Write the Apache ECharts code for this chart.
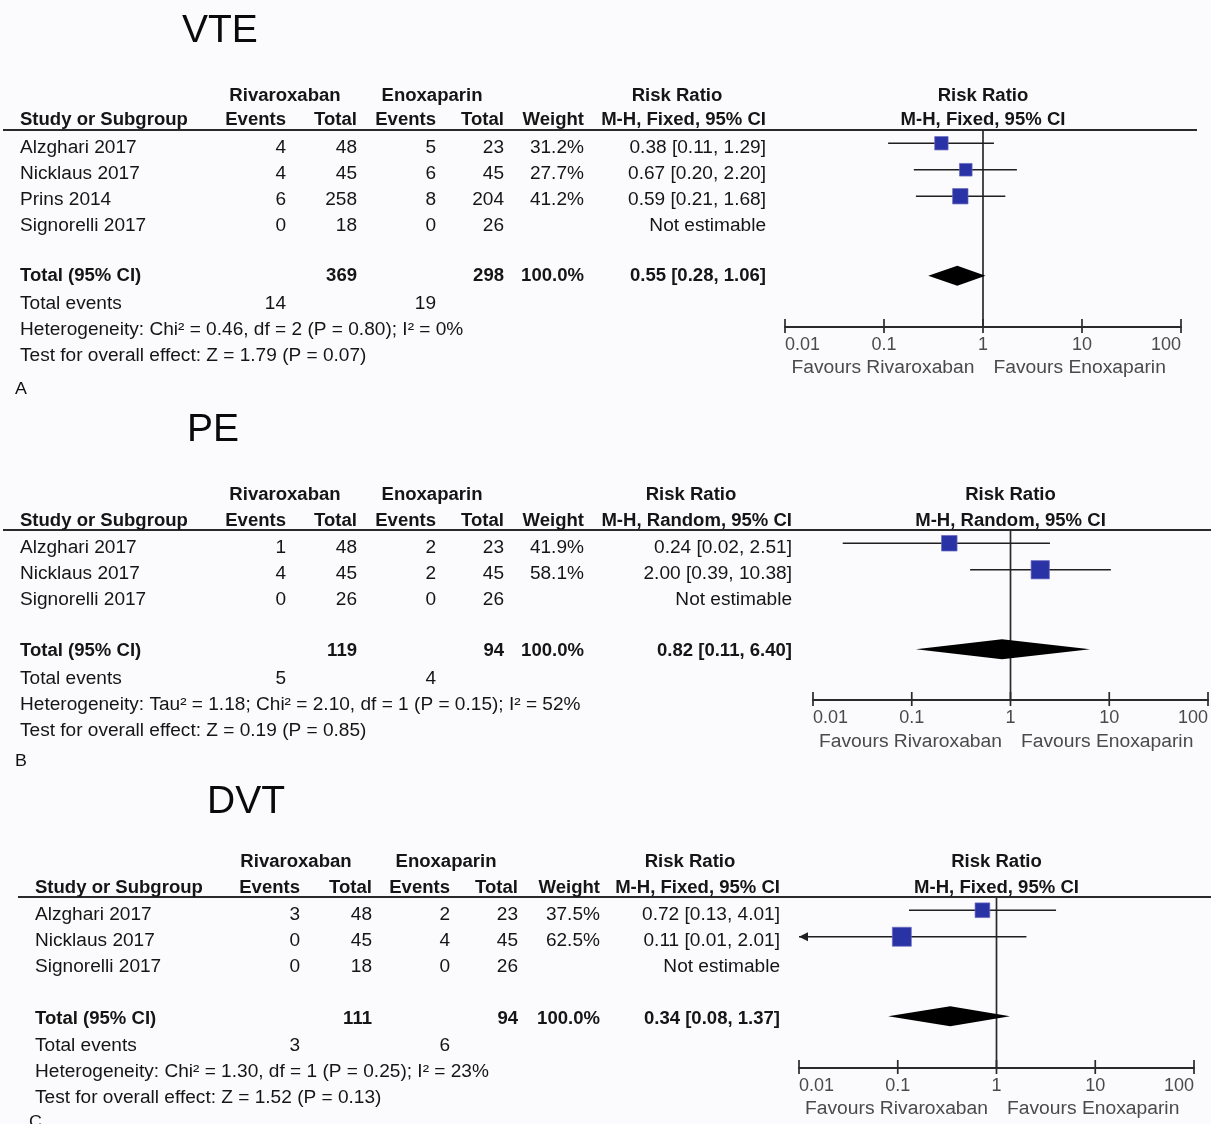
<!DOCTYPE html>
<html><head><meta charset="utf-8">
<script src="https://cdn.jsdelivr.net/npm/echarts@6.0.0/dist/echarts.min.js"></script>
<style>html,body{margin:0;padding:0;background:#fbfbfd}#c{width:1211px;height:1124px}</style>
</head><body><div id="c"></div>
<script>
// ---------------- DATA ----------------
const tickValues = [0.01, 0.1, 1, 10, 100];
const tickLabels = ['0.01', '0.1', '1', '10', '100'];
const favoursLeft = 'Favours Rivaroxaban';
const favoursRight = 'Favours Enoxaparin';
const panelTitles = ['VTE', 'PE', 'DVT'];
const panelLetters = ['A', 'B', 'C'];
const methods = ['M-H, Fixed, 95% CI', 'M-H, Random, 95% CI', 'M-H, Fixed, 95% CI'];

// VTE
const vteStudies = ['Alzghari 2017', 'Nicklaus 2017', 'Prins 2014', 'Signorelli 2017'];
const vteRivEvents = [4, 4, 6, 0];
const vteRivTotal = [48, 45, 258, 18];
const vteEnoEvents = [5, 6, 8, 0];
const vteEnoTotal = [23, 45, 204, 26];
const vteWeight = [31.2, 27.7, 41.2, null];
const vteRR = [0.38, 0.67, 0.59, null];
const vteLow = [0.11, 0.20, 0.21, null];
const vteHigh = [1.29, 2.20, 1.68, null];
const vteTotals = [369, 298];
const vteTotalEvents = [14, 19];
const vteOverall = [0.55, 0.28, 1.06];
const vteHet = 'Heterogeneity: Chi\u00b2 = 0.46, df = 2 (P = 0.80); I\u00b2 = 0%';
const vteTest = 'Test for overall effect: Z = 1.79 (P = 0.07)';

// PE
const peStudies = ['Alzghari 2017', 'Nicklaus 2017', 'Signorelli 2017'];
const peRivEvents = [1, 4, 0];
const peRivTotal = [48, 45, 26];
const peEnoEvents = [2, 2, 0];
const peEnoTotal = [23, 45, 26];
const peWeight = [41.9, 58.1, null];
const peRR = [0.24, 2.00, null];
const peLow = [0.02, 0.39, null];
const peHigh = [2.51, 10.38, null];
const peTotals = [119, 94];
const peTotalEvents = [5, 4];
const peOverall = [0.82, 0.11, 6.40];
const peHet = 'Heterogeneity: Tau\u00b2 = 1.18; Chi\u00b2 = 2.10, df = 1 (P = 0.15); I\u00b2 = 52%';
const peTest = 'Test for overall effect: Z = 0.19 (P = 0.85)';

// DVT
const dvtStudies = ['Alzghari 2017', 'Nicklaus 2017', 'Signorelli 2017'];
const dvtRivEvents = [3, 0, 0];
const dvtRivTotal = [48, 45, 18];
const dvtEnoEvents = [2, 4, 0];
const dvtEnoTotal = [23, 45, 26];
const dvtWeight = [37.5, 62.5, null];
const dvtRR = [0.72, 0.11, null];
const dvtLow = [0.13, 0.01, null];
const dvtHigh = [4.01, 2.01, null];
const dvtTotals = [111, 94];
const dvtTotalEvents = [3, 6];
const dvtOverall = [0.34, 0.08, 1.37];
const dvtHet = 'Heterogeneity: Chi\u00b2 = 1.30, df = 1 (P = 0.25); I\u00b2 = 23%';
const dvtTest = 'Test for overall effect: Z = 1.52 (P = 0.13)';

const panelData = [
  [vteStudies, vteRivEvents, vteRivTotal, vteEnoEvents, vteEnoTotal, vteWeight, vteRR, vteLow, vteHigh, vteTotals, vteTotalEvents, vteOverall, vteHet, vteTest],
  [peStudies, peRivEvents, peRivTotal, peEnoEvents, peEnoTotal, peWeight, peRR, peLow, peHigh, peTotals, peTotalEvents, peOverall, peHet, peTest],
  [dvtStudies, dvtRivEvents, dvtRivTotal, dvtEnoEvents, dvtEnoTotal, dvtWeight, dvtRR, dvtLow, dvtHigh, dvtTotals, dvtTotalEvents, dvtOverall, dvtHet, dvtTest]
];

// ---------------- LAYOUT ----------------
const layouts = [
  {titleX:182, titleY:31, letterX:15, letterY:389, h1Y:96, h2Y:120, lineY:130, lineX1:3, lineX2:1197, nameX:20,
   cols:[286,357,436,504,584,766], rivCenter:285, enoCenter:432, rrHeadCenter:677,
   rowY0:148, rowStep:26, totalY:276, eventsY:304, hetY:330, testY:356,
   gridLeft:785, gridWidth:396, gridTop:130, gridHeight:197, favY:368},
  {titleX:187, titleY:430, letterX:15, letterY:761, h1Y:495, h2Y:521, lineY:530, lineX1:3, lineX2:1211, nameX:20,
   cols:[286,357,436,504,584,792], rivCenter:285, enoCenter:432, rrHeadCenter:691,
   rowY0:548, rowStep:26, totalY:651, eventsY:679, hetY:705, testY:731,
   gridLeft:813, gridWidth:395, gridTop:530, gridHeight:170, favY:742},
  {titleX:207, titleY:802, letterX:29, letterY:1122, h1Y:862, h2Y:888, lineY:897, lineX1:18, lineX2:1211, nameX:35,
   cols:[300,372,450,518,600,780], rivCenter:296, enoCenter:446, rrHeadCenter:690,
   rowY0:915, rowStep:26, totalY:1019, eventsY:1046, hetY:1072, testY:1098,
   gridLeft:799, gridWidth:395, gridTop:897, gridHeight:171, favY:1109}
];
const ROW_PX = 26.5;
const FONT = '"Liberation Sans", Arial, Helvetica, sans-serif';
const TXT = '#151515';
const GRAY = '#4a4a4a';
const BLUE = '#2a33a6';

function T(x, y, text, o) {
  o = o || {};
  const al = o.align || 'left';
  return {type:'text', x:x, y:y, silent:true, z:10,
    scaleX: o.sx != null ? o.sx : (o.bold ? 1.03 : 1.06),
    style:{text:String(text), fill:o.color || TXT, fontSize:o.size || 18,
      fontWeight:o.bold ? 'bold' : 'normal', fontFamily:FONT,
      textAlign:al, textVerticalAlign:'middle', align:al, verticalAlign:'middle'}};
}
function fmtRR(r, l, h) { return r.toFixed(2) + ' [' + l.toFixed(2) + ', ' + h.toFixed(2) + ']'; }

const graphics = [];
const grids = [], xAxes = [], yAxes = [], series = [];

function logIdx(v) {
  for (let i = 0; i < tickValues.length; i++) {
    if (Math.abs(Math.log10(v) - Math.log10(tickValues[i])) < 1e-6) return i;
  }
  return -1;
}

panelData.forEach(function (d, p) {
  const L = layouts[p];
  const [studies, rEv, rTot, eEv, eTot, wts, rr, lo, hi, totals, tEvents, overall, het, test] = d;
  const c = L.cols;
  // title & letter
  graphics.push(T(L.titleX, L.titleY, panelTitles[p], {size:39, sx:1, color:'#0a0a0a'}));
  graphics.push(T(L.letterX, L.letterY, panelLetters[p], {size:17, sx:1.05, color:'#111'}));
  // headers
  graphics.push(T(L.rivCenter, L.h1Y, 'Rivaroxaban', {bold:true, align:'center'}));
  graphics.push(T(L.enoCenter, L.h1Y, 'Enoxaparin', {bold:true, align:'center'}));
  graphics.push(T(L.rrHeadCenter, L.h1Y, 'Risk Ratio', {bold:true, align:'center'}));
  graphics.push(T(L.nameX, L.h2Y, 'Study or Subgroup', {bold:true}));
  graphics.push(T(c[0], L.h2Y, 'Events', {bold:true, align:'right'}));
  graphics.push(T(c[1], L.h2Y, 'Total', {bold:true, align:'right'}));
  graphics.push(T(c[2], L.h2Y, 'Events', {bold:true, align:'right'}));
  graphics.push(T(c[3], L.h2Y, 'Total', {bold:true, align:'right'}));
  graphics.push(T(c[4], L.h2Y, 'Weight', {bold:true, align:'right'}));
  graphics.push(T(c[5], L.h2Y, methods[p], {bold:true, align:'right'}));
  const gc = L.gridLeft + L.gridWidth / 2;
  graphics.push(T(gc, L.h1Y, 'Risk Ratio', {bold:true, align:'center'}));
  graphics.push(T(gc, L.h2Y, methods[p], {bold:true, align:'center'}));
  // header rule
  graphics.push({type:'line', silent:true, z:5, shape:{x1:L.lineX1, y1:L.lineY, x2:L.lineX2, y2:L.lineY},
    style:{stroke:'#2a2a2a', lineWidth:1.8}});
  // study rows
  studies.forEach(function (s, i) {
    const y = L.rowY0 + i * L.rowStep;
    graphics.push(T(L.nameX, y, s));
    graphics.push(T(c[0], y, rEv[i], {align:'right'}));
    graphics.push(T(c[1], y, rTot[i], {align:'right'}));
    graphics.push(T(c[2], y, eEv[i], {align:'right'}));
    graphics.push(T(c[3], y, eTot[i], {align:'right'}));
    if (wts[i] != null) graphics.push(T(c[4], y, wts[i].toFixed(1) + '%', {align:'right'}));
    graphics.push(T(c[5], y, rr[i] != null ? fmtRR(rr[i], lo[i], hi[i]) : 'Not estimable', {align:'right'}));
  });
  // totals
  graphics.push(T(L.nameX, L.totalY, 'Total (95% CI)', {bold:true}));
  graphics.push(T(c[1], L.totalY, totals[0], {bold:true, align:'right'}));
  graphics.push(T(c[3], L.totalY, totals[1], {bold:true, align:'right'}));
  graphics.push(T(c[4], L.totalY, '100.0%', {bold:true, align:'right'}));
  graphics.push(T(c[5], L.totalY, fmtRR(overall[0], overall[1], overall[2]), {bold:true, align:'right'}));
  graphics.push(T(L.nameX, L.eventsY, 'Total events'));
  graphics.push(T(c[0], L.eventsY, tEvents[0], {align:'right'}));
  graphics.push(T(c[2], L.eventsY, tEvents[1], {align:'right'}));
  graphics.push(T(L.nameX, L.hetY, het));
  graphics.push(T(L.nameX, L.testY, test));
  // favours
  graphics.push(T(gc - 8.5, L.favY, favoursLeft, {align:'right', size:18, sx:1.07, color:GRAY}));
  graphics.push(T(gc + 10.5, L.favY, favoursRight, {align:'left', size:18, sx:1.07, color:GRAY}));

  // grid & axes
  grids.push({left:L.gridLeft, top:L.gridTop, width:L.gridWidth, height:L.gridHeight, containLabel:false});
  xAxes.push({type:'log', logBase:10, gridIndex:p, min:tickValues[0], max:tickValues[tickValues.length - 1],
    position:'bottom',
    axisLine:{show:true, onZero:false, lineStyle:{color:'#2a2a2a', width:1.8}},
    axisTick:{show:false}, splitLine:{show:false}, minorTick:{show:false},
    axisLabel:{show:true, fontSize:18, color:GRAY, fontFamily:FONT, margin:9,
      alignMinLabel:'left', alignMaxLabel:'right',
      formatter:function (v) { const k = logIdx(v); return k >= 0 ? tickLabels[k] : ''; }}});
  yAxes.push({type:'value', gridIndex:p, inverse:true, min:-0.5, max:L.gridHeight / ROW_PX - 0.5, show:false,
    axisLine:{onZero:false}});

  const ciData = [];
  studies.forEach(function (s, i) { if (rr[i] != null) ciData.push([rr[i], i, lo[i], hi[i], wts[i]]); });
  const totalRow = studies.length + 1;
  const xMin = tickValues[0], xMax = tickValues[tickValues.length - 1];

  // reference line at 1
  series.push({type:'custom', xAxisIndex:p, yAxisIndex:p, clip:false, silent:true, z:2,
    data:[[1, 0]],
    renderItem:function (params, api) {
      const cs = params.coordSys; const pt = api.coord([api.value(0), 0]);
      return {type:'line', shape:{x1:pt[0], y1:cs.y, x2:pt[0], y2:cs.y + cs.height},
        style:{stroke:'#2a2a2a', lineWidth:1.7}};
    }});
  // tick marks
  series.push({type:'custom', xAxisIndex:p, yAxisIndex:p, clip:false, silent:true, z:2,
    data:tickValues.map(function (v) { return [v, 0]; }),
    renderItem:function (params, api) {
      const cs = params.coordSys; const pt = api.coord([api.value(0), 0]);
      const yb = cs.y + cs.height;
      return {type:'line', shape:{x1:pt[0], y1:yb - 8, x2:pt[0], y2:yb + 6},
        style:{stroke:'#2a2a2a', lineWidth:1.7}};
    }});
  // study CIs and squares
  series.push({type:'custom', xAxisIndex:p, yAxisIndex:p, clip:false, silent:true, z:4,
    encode:{x:0, y:1}, data:ciData,
    renderItem:function (params, api) {
      const r = api.value(0), row = api.value(1), l = api.value(2), h = api.value(3), w = api.value(4);
      const cpt = api.coord([r, row]);
      const pl = api.coord([Math.max(l, xMin), row]);
      const ph = api.coord([Math.min(h, xMax), row]);
      const sz = 2.4 * Math.sqrt(w);
      const ch = [
        {type:'line', shape:{x1:pl[0], y1:cpt[1], x2:ph[0], y2:cpt[1]}, style:{stroke:'#1f1f1f', lineWidth:1.5}},
        {type:'rect', shape:{x:cpt[0] - sz / 2, y:cpt[1] - sz / 2, width:sz, height:sz},
          style:{fill:BLUE, stroke:'#6a6ac0', lineWidth:0.7}}
      ];
      if (l <= xMin) {
        ch.push({type:'polygon', shape:{points:[[pl[0], cpt[1]], [pl[0] + 9, cpt[1] - 4.5], [pl[0] + 9, cpt[1] + 4.5]]},
          style:{fill:'#1f1f1f'}});
      }
      return {type:'group', children:ch};
    }});
  // overall diamond
  series.push({type:'custom', xAxisIndex:p, yAxisIndex:p, clip:false, silent:true, z:4,
    encode:{x:0, y:1}, data:[[overall[0], totalRow, overall[1], overall[2]]],
    renderItem:function (params, api) {
      const row = api.value(1);
      const c0 = api.coord([api.value(0), row]);
      const cl = api.coord([api.value(2), row]);
      const chh = api.coord([api.value(3), row]);
      return {type:'polygon', shape:{points:[[cl[0], c0[1]], [c0[0], c0[1] - 10], [chh[0], c0[1]], [c0[0], c0[1] + 10]]},
        style:{fill:'#000'}};
    }});
});

const chart = echarts.init(document.getElementById('c'), null, {renderer:'canvas', width:1211, height:1124});
chart.setOption({
  backgroundColor:'#fbfbfd',
  animation:false,
  grid:grids, xAxis:xAxes, yAxis:yAxes, series:series,
  graphic:{elements:graphics}
});
</script>
</body></html>
